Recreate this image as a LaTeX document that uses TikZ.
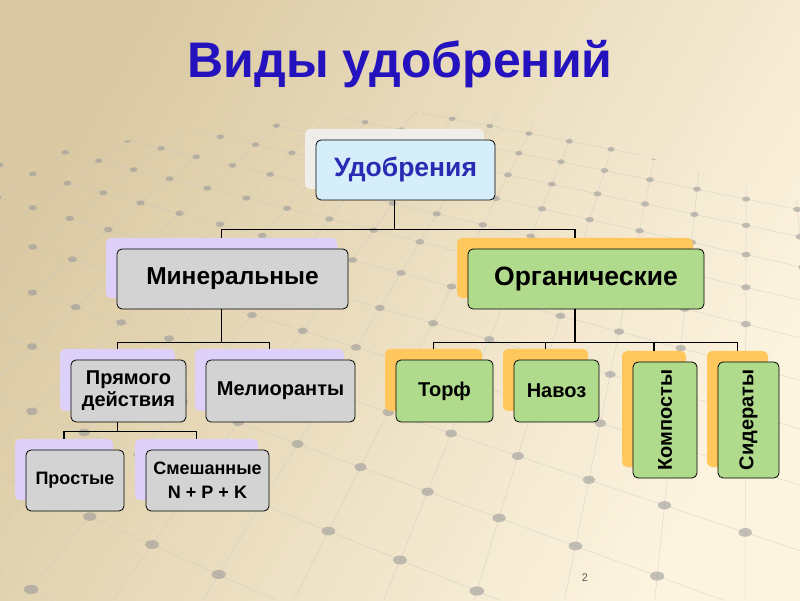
\documentclass[tikz,border=0pt]{standalone}
\usepackage{fontspec}
\setmainfont{Liberation Sans}
\usetikzlibrary{positioning,shadows,calc}
\definecolor{bgdark}{RGB}{218,201,162}
\definecolor{bglight}{RGB}{253,244,224}
\definecolor{titleblue}{RGB}{36,18,190}
\definecolor{rootblue}{RGB}{42,42,178}
\definecolor{rootfill}{RGB}{214,238,250}
\definecolor{rootback}{RGB}{240,238,234}
\definecolor{mingrey}{RGB}{211,211,212}
\definecolor{minlav}{RGB}{221,209,250}
\definecolor{orggreen}{RGB}{176,218,140}
\definecolor{orgorange}{RGB}{255,199,92}
\definecolor{dotgrey}{RGB}{150,150,150}
% perspective grid of the background
\newcommand\gridang{-22}
\newcommand\gridA{80}
\newcommand\gridB{80}
\newcommand\gridc{0.093}
\newcommand\gridvmax{12.5}

\begin{document}
\begin{tikzpicture}[x=1pt,y=1pt,
  box/.style={rectangle, rounded corners=5pt, draw=black, line width=0.8pt, align=center, inner sep=0pt, font=\bfseries},
  rootbox/.style={box, fill=rootfill, text=rootblue, general shadow={fill=rootback, shadow xshift=-11pt, shadow yshift=11pt}},
  minbox/.style={box, fill=mingrey, general shadow={fill=minlav, shadow xshift=-11pt, shadow yshift=11pt}},
  orgbox/.style={box, fill=orggreen, general shadow={fill=orgorange, shadow xshift=-11pt, shadow yshift=11pt}},
  bigtext/.style={font=\bfseries\fontsize{26.5}{30}\selectfont},
  midtext/.style={font=\bfseries\fontsize{20}{22}\selectfont},
  smalltext/.style={font=\bfseries\fontsize{18}{24}\selectfont},
  link/.style={line width=1.6pt},
  gridline/.style={draw=white!55!gray, line width=0.5pt, opacity=0.55},
  dot/.style={fill=dotgrey, opacity=0.55}
  ]
  \useasboundingbox (0,0) rectangle (800,600);
  \shade[top color=bgdark, bottom color=bglight, shading angle=60] (0,0) rectangle (800,600);

  % Grid
  \begin{scope}
    \clip (0,0) -- (0,440) -- (250,478) -- (480,490) -- (800,400) -- (800,0) -- cycle;
    \foreach \i in {-15,...,6}{
      \pgfmathsetmacro\gua{\i/cos(\gridang)+3*tan(\gridang)}
      \pgfmathsetmacro\gub{\i/cos(\gridang)-\gridvmax*tan(\gridang)}
      \draw[gridline] ({400+\gridA*\gua/(1-3*\gridc)},{40-3*\gridB/(1-3*\gridc)}) -- ({400+\gridA*\gub/(1+\gridvmax*\gridc)},{40+\gridvmax*\gridB/(1+\gridvmax*\gridc)});
    }
    \foreach \j in {-5,...,16}{
      \pgfmathsetmacro\gua{-3/tan(\gridang)-\j/sin(\gridang)}
      \pgfmathsetmacro\gub{\gridvmax/tan(\gridang)-\j/sin(\gridang)}
      \draw[gridline] ({400+\gridA*\gua/(1-3*\gridc)},{40-3*\gridB/(1-3*\gridc)}) -- ({400+\gridA*\gub/(1+\gridvmax*\gridc)},{40+\gridvmax*\gridB/(1+\gridvmax*\gridc)});
    }
    \foreach \i in {-15,...,6}{
      \foreach \j in {-5,...,16}{
        \pgfmathsetmacro\gv{\i*sin(\gridang)+\j*cos(\gridang)}
        \pgfmathtruncatemacro\gok{and(\gv>-3,\gv<\gridvmax)}
        \ifnum\gok=1
          \pgfmathsetmacro\gu{\i*cos(\gridang)-\j*sin(\gridang)}
          \pgfmathsetmacro\gw{1+\gridc*\gv}
          \fill[dot] ({400+\gridA*\gu/\gw},{40+\gridB*\gv/\gw}) ellipse [x radius={7/\gw}, y radius={4.5/\gw}];
        \fi
      }
    }
  \end{scope}

  % Title
  \node[font=\bfseries\fontsize{50}{54}\selectfont, text=titleblue, anchor=base] (title) at (400,522) {Виды удобрений};

  % Nodes
  \node[rootbox, bigtext, text=rootblue, minimum width=179pt, minimum height=60pt] (udo) at (405.5,430) {Удобрения};
  \node[minbox, font=\bfseries\fontsize{24.5}{28}\selectfont, minimum width=231pt, minimum height=60pt] (min) at (232.5,321) {Минеральные};
  \node[orgbox, bigtext, minimum width=236pt, minimum height=60pt] (org) at (586,321) {Органические};
  \node[minbox, midtext, minimum width=115pt, minimum height=62pt] (pryam) at (128.5,209) {Прямого\\действия};
  \node[minbox, midtext, minimum width=149pt, minimum height=62pt] (melio) at (280.5,209) {Мелиоранты};
  \node[minbox, smalltext, minimum width=98pt, minimum height=61pt] (prost) at (75,119.5) {Простые};
  \node[minbox, smalltext, minimum width=123pt, minimum height=61pt] (smesh) at (207.5,119.5) {Смешанные\\N + P + K};
  \node[orgbox, midtext, minimum width=97pt, minimum height=62pt] (torf) at (444.5,209) {Торф};
  \node[orgbox, midtext, minimum width=85pt, minimum height=62pt] (navoz) at (556.5,209) {Навоз};
  \node[orgbox, midtext, minimum width=64pt, minimum height=116pt] (kompost) at (665,180) {\rotatebox{90}{Компосты}};
  \node[orgbox, midtext, minimum width=61pt, minimum height=116pt] (sider) at (748.5,180) {\rotatebox{90}{Сидераты}};

  \node[font=\fontsize{11}{13}\selectfont, text=gray!70!black] (num) at (585,22) {2};

  % Connectors
  \draw[link] ([xshift=-11pt]udo.south) -- ++(0,-29) -| ([xshift=-11pt,yshift=11pt]min.north);
  \draw[link] ([xshift=-11pt]udo.south) -- ++(0,-29) -| ([xshift=-11pt,yshift=11pt]org.north);
  \draw[link] ([xshift=-11pt]min.south) -- ++(0,-33) -| ([xshift=-11pt,yshift=11pt]pryam.north);
  \draw[link] ([xshift=-11pt]min.south) -- ++(0,-33) -| ([xshift=-11pt,yshift=11pt]melio.north);
  \draw[link] ([xshift=-11pt]org.south) -- ++(0,-33) -| ([xshift=-11pt,yshift=11pt]torf.north);
  \draw[link] ([xshift=-11pt]org.south) -- ++(0,-33) -| ([xshift=-11pt,yshift=11pt]navoz.north);
  \draw[link] ([xshift=-11pt]org.south) -- ++(0,-33) -| ([xshift=-11pt,yshift=11pt]kompost.north);
  \draw[link] ([xshift=-11pt]org.south) -- ++(0,-33) -| ([xshift=-11pt,yshift=11pt]sider.north);
  \draw[link] ([xshift=-11pt]pryam.south) -- ++(0,-9) -| ([xshift=-11pt,yshift=11pt]prost.north);
  \draw[link] ([xshift=-11pt]pryam.south) -- ++(0,-9) -| ([xshift=-11pt,yshift=11pt]smesh.north);
\end{tikzpicture}
\end{document}
